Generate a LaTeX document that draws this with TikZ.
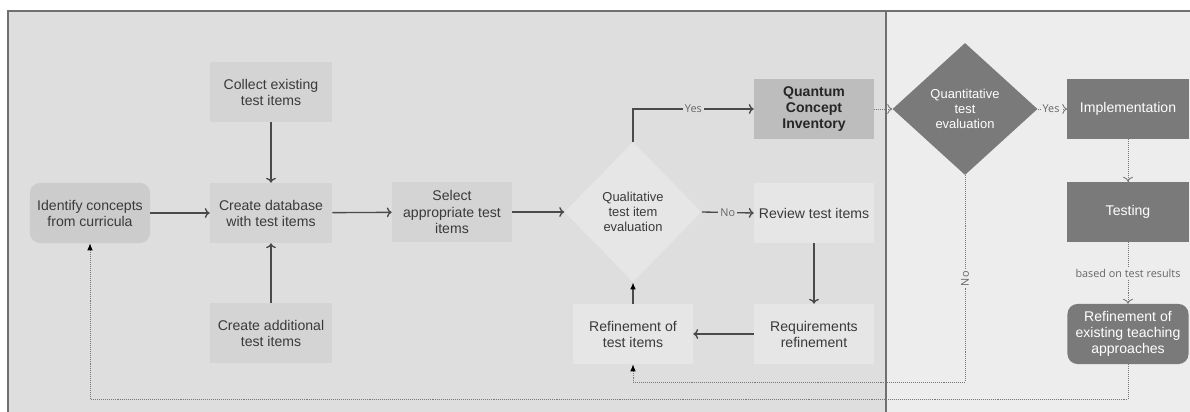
\documentclass[tikz,border=0pt]{standalone}
\usepackage{fontspec}
\setmainfont{Liberation Sans}
\newfontfamily\labelfont{Open Sans}
\usetikzlibrary{arrows, arrows.meta, shapes.geometric}

\definecolor{leftbg}{HTML}{DEDEDE}
\definecolor{rightbg}{HTML}{EDEDED}
\definecolor{framecol}{HTML}{707070}
\definecolor{midfill}{HTML}{D4D4D4}
\definecolor{lightfill}{HTML}{E6E6E6}
\definecolor{qcifill}{HTML}{BDBDBD}
\definecolor{darkfill}{HTML}{7A7A7A}
\definecolor{txt}{HTML}{3A3A3A}
\definecolor{edgecol}{HTML}{4A4A4A}
\definecolor{dotcol}{HTML}{777777}
\definecolor{lblcol}{HTML}{666666}

\begin{document}
\begin{tikzpicture}[x=0.025cm, y=-0.025cm, >={To[length=3.5pt, width=7pt]}]
      \tikzset{box/.style = {shape=rectangle, minimum width=3cm, minimum height=1.5cm, align=center, inner sep=2pt, font=\fontsize{10}{11.4}\selectfont, text=txt}}
      \tikzset{darkbox/.style = {box, fill=darkfill, text=white}}
      \tikzset{decision/.style = {shape=diamond, align=center, inner sep=0pt, font=\fontsize{9.2}{10.6}\selectfont}}
      \tikzset{edge/.style = {->, draw=edgecol, line width=0.95pt}}
      \tikzset{dots/.style = {->, draw=dotcol, dash pattern=on 0.6pt off 0.8pt, line width=0.65pt}}
      \tikzset{back/.style = {-{Latex[length=5pt, width=4pt, black]}, draw=dotcol, dash pattern=on 0.6pt off 0.8pt, line width=0.65pt}}
      \tikzset{lbl/.style = {font=\labelfont\fontsize{7.7}{9}\selectfont, text=lblcol, inner sep=1.5pt}}
      \useasboundingbox (0, 0) rectangle (1190, 412);
      \fill[leftbg] (8, 11) rectangle (886, 412);
      \fill[rightbg] (886, 11) rectangle (1190, 412);
      \draw[framecol, line width=1.4pt] (8, 412) -- (8, 11) -- (1190, 11);
      \draw[framecol, line width=1.4pt] (886, 11) -- (886, 412);
      \node[box, fill=midfill!96!black, rounded corners=0.25cm] (ident) at (90, 213) {Identify concepts\\from curricula};
      \node[box, fill=midfill, minimum width=3.05cm] (collect) at (271, 92) {Collect existing\\test items};
      \node[box, fill=midfill, minimum width=3.05cm] (database) at (271, 213) {Create database\\with test items};
      \node[box, fill=midfill, minimum width=3.05cm] (additional) at (271, 333) {Create additional\\test items};
      \node[box, fill=midfill] (select) at (452, 212) {Select\\appropriate test\\items};
      \node[decision, fill=lightfill, text=txt, minimum width=3.425cm, minimum height=3.5cm] (qual) at (633, 212) {Qualitative\\test item\\evaluation};
      \node[box, fill=qcifill, font=\bfseries\fontsize{10}{11.4}\selectfont, text=black!85] (qci) at (814, 109) {Quantum\\Concept\\Inventory};
      \node[box, fill=lightfill] (review) at (814, 213) {Review test items};
      \node[box, fill=lightfill] (require) at (814, 334) {Requirements\\refinement};
      \node[box, fill=lightfill] (refine) at (633, 334) {Refinement of\\test items};
      \node[decision, fill=darkfill, text=white, minimum width=3.625cm, minimum height=3.3cm] (quant) at (965, 109) {Quantitative\\test\\evaluation};
      \node[darkbox, minimum width=3.025cm] (implement) at (1128, 109) {Implementation};
      \node[darkbox, minimum width=3.025cm] (testing) at (1128, 212) {Testing};
      \node[darkbox, minimum width=3.025cm, rounded corners=0.25cm] (teaching) at (1128, 334) {Refinement of\\existing teaching\\approaches};
      \coordinate (noturn) at (965, 382);
      \coordinate (backturn) at (1128, 399);
      \draw[edge] (ident) to (database);
      \draw[edge] (collect) to (database);
      \draw[edge] (additional) to (database);
      \draw[edge] (database) to (select);
      \draw[edge] (select) to (qual);
      \draw[edge] (qual.north) |- node[lbl, fill=leftbg, pos=0.75] {Yes} (qci.west);
      \draw[edge] (qual.east) to node[lbl, fill=leftbg] {No} (review.west);
      \draw[edge] (review) to (require);
      \draw[edge] (require) to (refine);
      \draw[edge, -{Latex[length=5pt, width=4pt, black]}] (refine) to (qual.south);
      \draw[dots] (qci) to (quant.west);
      \draw[dots] (quant.east) to node[lbl, fill=rightbg, pos=0.45] {Yes} (implement);
      \draw[dots] (implement) to (testing);
      \draw[dots] (testing) to node[lbl, fill=rightbg] {based on test results} (teaching);
      \draw[back] (quant.south) to node[lbl, fill=rightbg, rotate=90] {No} (noturn) -| (refine.south);
      \draw[back] (teaching.south) to (backturn) -| (ident.south);
    \end{tikzpicture}
\end{document}
